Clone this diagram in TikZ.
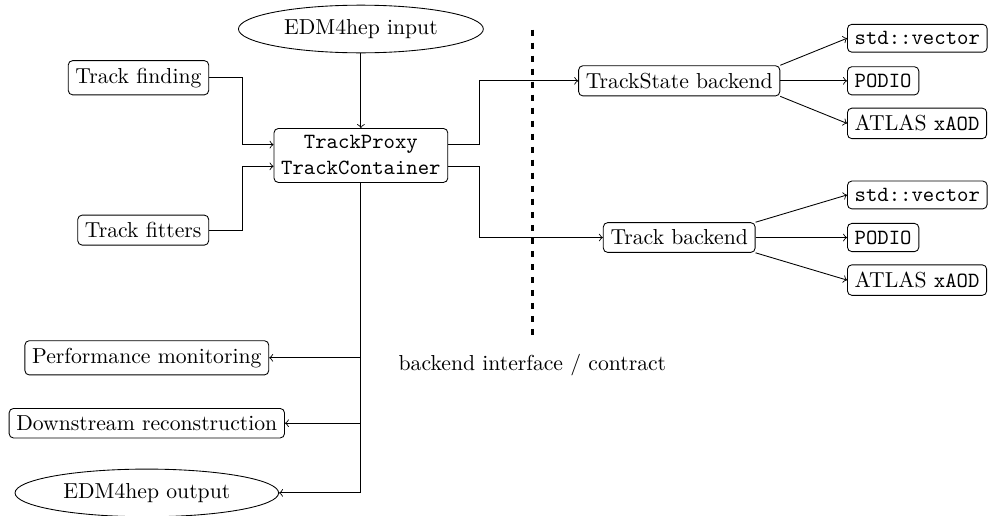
\documentclass[tikz,border=0pt]{standalone}
\usepackage{amsmath}
\usepackage{tikz}
\usetikzlibrary{shapes.geometric}

\begin{document}
\begin{tikzpicture}[box/.style={draw, rounded corners=2pt}, io/.style={draw, ellipse, inner xsep=4.5pt}]
      \useasboundingbox (-5.85,-5.84) rectangle (10.23,2.52);

      % centre
      \node[box, align=center] (P) at (0,0) {\texttt{TrackProxy}\\\texttt{TrackContainer}};
      \node[io] (In) at (0,2.05) {EDM4hep input};

      % producers
      \node[box, anchor=east] (F) at (-2.46,1.26) {Track finding};
      \node[box, anchor=east] (Ft) at (-2.46,-1.21) {Track fitters};

      % consumers
      \node[box] (Perf) at (-3.47,-3.28) {Performance monitoring};
      \node[box] (Down) at (-3.47,-4.34) {Downstream reconstruction};
      \node[io] (Out) at (-3.47,-5.47) {EDM4hep output};

      % backends
      \node[box] (TS) at (5.16,1.21) {TrackState backend};
      \node[box] (TB) at (5.16,-1.33) {Track backend};

      \node[box, anchor=west] (TSv) at (7.88,1.90) {\texttt{std::vector}};
      \node[box, anchor=west] (TSp) at (7.88,1.21) {\texttt{PODIO}};
      \node[box, anchor=west] (TSa) at (7.88,0.52) {ATLAS \texttt{xAOD}};
      \node[box, anchor=west] (TBv) at (7.88,-0.64) {\texttt{std::vector}};
      \node[box, anchor=west] (TBp) at (7.88,-1.33) {\texttt{PODIO}};
      \node[box, anchor=west] (TBa) at (7.88,-2.02) {ATLAS \texttt{xAOD}};

      % interface line
      \coordinate (Dt) at (2.78,2.04);
      \coordinate (Db) at (2.78,-3.02);
      \draw[very thick, dashed] (Dt) -- (Db);
      \node (L) at (2.78,-3.40) {backend interface / contract};

      \draw[->] (In) -- (P);
      \draw[->] (F.east) -| ([xshift=-5mm, yshift=5pt]P.west) -- ([yshift=5pt]P.west);
      \draw[->] (Ft.east) -| ([xshift=-5mm, yshift=-5pt]P.west) -- ([yshift=-5pt]P.west);

      \draw[->] ([yshift=5pt]P.east) -- ++(5mm,0) |- (TS.west);
      \draw[->] ([yshift=-5pt]P.east) -- ++(5mm,0) |- (TB.west);

      \draw[->] (P.south) |- (Out.east);
      \draw[->] (P.south |- Perf.east) -- (Perf.east);
      \draw[->] (P.south |- Down.east) -- (Down.east);

      \draw[->] (TS.north east) -- (TSv.west);
      \draw[->] (TS.east) -- (TSp.west);
      \draw[->] (TS.south east) -- (TSa.west);
      \draw[->] (TB.north east) -- (TBv.west);
      \draw[->] (TB.east) -- (TBp.west);
      \draw[->] (TB.south east) -- (TBa.west);
    \end{tikzpicture}
\end{document}
